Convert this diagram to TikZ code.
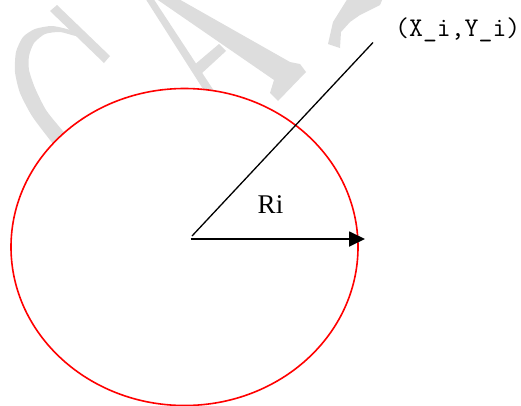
\documentclass[tikz,border=0pt]{standalone}
\usepackage{fontspec}
\setmainfont{Liberation Serif}
\usetikzlibrary{arrows.meta}
\definecolor{wm}{RGB}{221,221,221}
\begin{document}
\begin{tikzpicture}[x=1pt,y=-1pt,
  wmark/.style={fill=wm,draw=none},
  ring/.style={draw=red,line width=1.6pt,fill=white},
  ray/.style={draw=black,line width=1.3pt},
  radiusarrow/.style={draw=black,line width=1.8pt,-{Triangle[length=16pt,width=15pt]}},
  lbl/.style={inner sep=0pt,anchor=base}]
\useasboundingbox (0,0) rectangle (521,405);
% watermark (faint letters)
\fill[wmark] plot[smooth cycle, tension=0.4] coordinates{(70,30) (52,26) (35,29) (23,37) (16,52) (15,72) (20,93) (32,116) (50,140) (70,165) (88,160) (62,130) (46,110) (35,88) (29,70) (29,56) (34,43) (45,34) (60,32) (76,36)};
\fill[wmark] (50,11) -- (57,5) -- (110,56) -- (104,63) -- cycle;
\fill[wmark] (145,-2) -- (153,-2) -- (220,100) -- (210,100) -- cycle;
\fill[wmark] (155,-2) -- (177,-2) -- (290,62) -- (300,64) -- (306,72) -- (278,101) -- (270,93) -- (274,80) -- cycle;
\fill[wmark] (193,66) -- (201,74) -- (226,51) -- (219,44) -- cycle;
\fill[wmark] (348,-2) -- (333,22) -- (328,44) -- (340,48) -- (341,32) -- (350,22) -- (360,15) -- (380,5) -- (383,-2) -- cycle;
% circle
\coordinate (E) at (184.5,247);
\draw[ring] (E) ellipse [x radius=173.5, y radius=158.5];
% center, rays
\coordinate (O) at (190.5,239);
\coordinate (D) at (192,236);
\coordinate (P) at (373,42.5);
\coordinate (T) at (365,239);
\draw[ray] (D) -- (P);
\draw[radiusarrow] (O) -- (T);
% labels
\node[lbl] (ri) at (270.5,213.5) {\fontsize{27}{27}\selectfont Ri};
\node[lbl, anchor=base west] (xy) at (395,36.5) {\ttfamily\fontsize{27}{27}\selectfont (X\_i,Y\_i)};
\end{tikzpicture}
\end{document}
